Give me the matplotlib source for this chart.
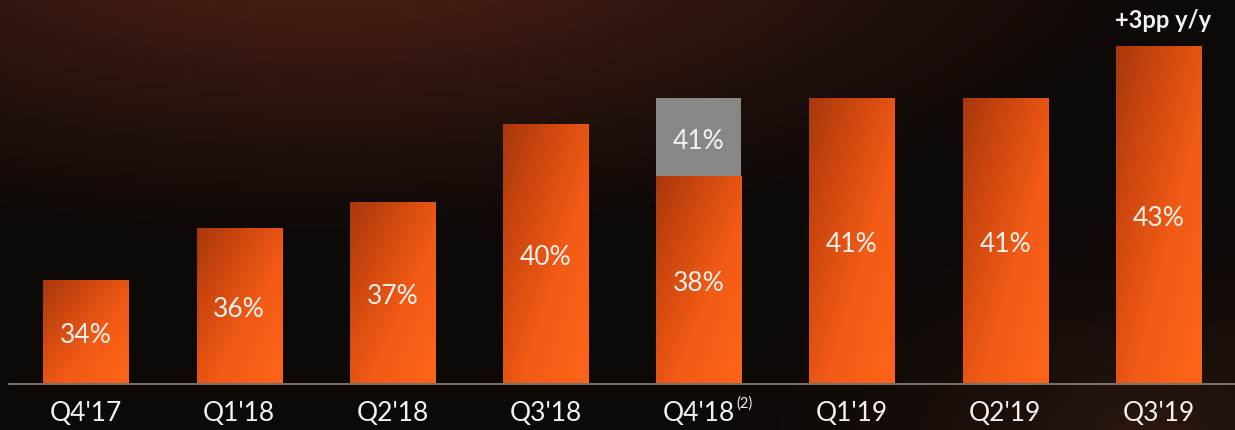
import numpy as np
import matplotlib.pyplot as plt
from matplotlib.colors import LinearSegmentedColormap

plt.rcParams['font.family'] = ['Lato', 'DejaVu Sans']

# data
quarters = ["Q4'17", "Q1'18", "Q2'18", "Q3'18", "Q4'18", "Q1'19", "Q2'19", "Q3'19"]
margin = [34, 36, 37, 40, 38, 41, 41, 43]
# Q4'18 shown with an extra grey segment on top (adjusted value)
adjusted = [None, None, None, None, 41, None, None, None]
note = "+3pp y/y"

W, H = 1235, 431
fig = plt.figure(figsize=(W / 100, H / 100), dpi=100)

# background glow
bg = fig.add_axes([0, 0, 1, 1])
yy, xx = np.mgrid[0:H, 0:W]
d = np.sqrt(((xx - 330) / 850.0) ** 2 + ((yy + 60) / 300.0) ** 2)
glow = np.clip(1 - d, 0, 1) ** 1.1
base = np.array([13, 9, 7]) / 255.0
warm = np.array([84, 34, 22]) / 255.0
img = base[None, None, :] + glow[..., None] * (warm - base)[None, None, :]
# slight warmth on the right
d2 = np.sqrt(((xx - 1150) / 500.0) ** 2 + ((yy - 430) / 260.0) ** 2)
g2 = np.clip(1 - d2, 0, 1) ** 2
img = img + g2[..., None] * (np.array([30, 14, 8]) / 255.0)
bg.imshow(np.clip(img, 0, 1), extent=[0, 1, 0, 1], aspect='auto', origin='upper')
bg.axis('off')

ax = fig.add_axes([9.4 / W, 46.5 / H, 1225.6 / W, 382 / H])
ax.patch.set_alpha(0)
ax.set_xlim(-0.5, len(quarters) - 0.5)
ax.set_ylim(30, 30 + 382 / 26)

orange = LinearSegmentedColormap.from_list('og', ['#a8380c', '#d0480f', '#f25b16', '#fb6319'])
gx, gy = np.meshgrid(np.linspace(0, 1, 64), np.linspace(0, 1, 128))
grad = np.clip(0.55 * gx + 0.55 * gy, 0, 1)

x = np.arange(len(quarters))
bars = ax.bar(x, [m - 30 for m in margin], bottom=30, width=0.555, color='none', zorder=2)
for b, m in zip(bars, margin):
    x0 = b.get_x()
    im = ax.imshow(grad, cmap=orange, extent=[x0, x0 + b.get_width(), 30, m],
                   origin='upper', aspect='auto', zorder=2)
    im.set_clip_path(b)

for i, a in enumerate(adjusted):
    if a is not None:
        ax.bar(x[i], a - margin[i], bottom=margin[i], width=0.555, color='#878787', zorder=3)
        ax.text(x[i], (a + margin[i]) / 2 - 0.15, f'{a}%', ha='center', va='center',
                color='#f4f1ee', fontsize=19, zorder=4)

for i, m in enumerate(margin):
    ax.text(x[i], (m + 30) / 2 - 0.1, f'{m}%', ha='center', va='center',
            color='#f4f1ee', fontsize=19, zorder=4)

ax.text(x[-1] + 0.03, margin[-1] + 1.0, note, ha='center', va='center',
        color='#f4f1ee', fontsize=17, fontweight='bold')

ax.set_xticks(x)
ax.set_xticklabels(quarters, color='#f4f1ee', fontsize=19)
ax.tick_params(axis='x', length=0, pad=12)
ax.set_yticks([])
ax.text(x[4] + 0.245, 29.28, '(2)', ha='left', va='center', color='#f4f1ee',
        fontsize=10.5, clip_on=False)
for s in ['top', 'right', 'left']:
    ax.spines[s].set_visible(False)
ax.spines['bottom'].set_color('#8a8580')
ax.spines['bottom'].set_linewidth(1.2)

fig.savefig('out.png', dpi=100)
